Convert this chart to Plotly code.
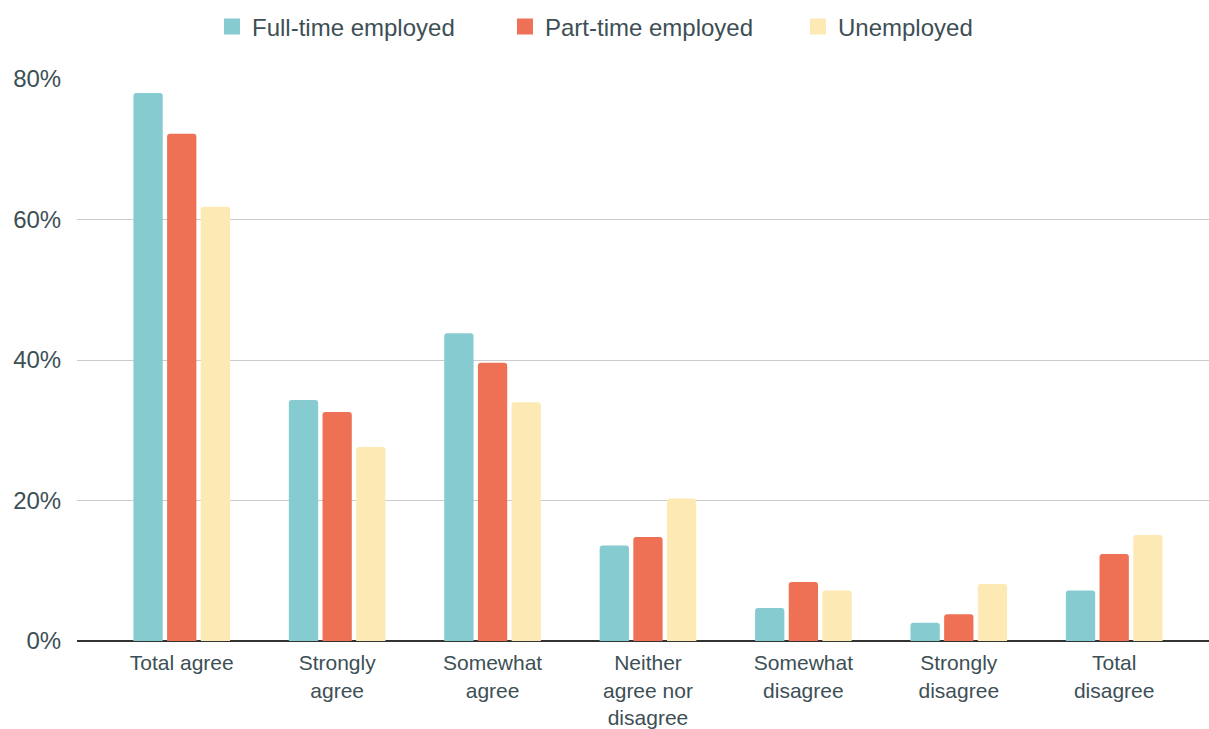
import plotly.graph_objects as go

categories = ["Total agree", "Strongly<br>agree", "Somewhat<br>agree",
              "Neither<br>agree nor<br>disagree", "Somewhat<br>disagree",
              "Strongly<br>disagree", "Total<br>disagree"]
series_names = ["Full-time employed", "Part-time employed", "Unemployed"]
full_time = [78.0, 34.3, 43.8, 13.6, 4.7, 2.6, 7.2]
part_time = [72.2, 32.6, 39.6, 14.8, 8.4, 3.8, 12.4]
unemployed = [61.8, 27.6, 34.0, 20.3, 7.2, 8.1, 15.1]
colors = ["#86CBD0", "#EF7155", "#FDE9B4"]
y_ticks = [0, 20, 40, 60, 80]
y_tick_text = ["0%", "20%", "40%", "60%", "80%"]

FONT = "Arial"
TXT = "#3d4f55"

fig = go.Figure()
for name, vals, col in zip(series_names, [full_time, part_time, unemployed], colors):
    fig.add_trace(go.Bar(x=list(range(len(categories))), y=vals, name=name,
                         marker=dict(color=col, line=dict(width=0)),
                         showlegend=False))
    fig.add_trace(go.Scatter(x=[None], y=[None], mode="markers", name=name,
                             marker=dict(symbol="square", size=16, color=col,
                                         line=dict(width=0)),
                             showlegend=True))

fig.update_layout(
    width=1209, height=729,
    margin=dict(l=77, r=0, t=79, b=88),
    paper_bgcolor="white", plot_bgcolor="white",
    barmode="group", bargap=0.35, bargroupgap=0.13,
    barcornerradius=3,
    font=dict(family=FONT, size=24, color=TXT),
    legend=dict(orientation="h", x=0.5075, xanchor="center",
                yref="container", y=1 - 27 / 729, yanchor="middle",
                font=dict(size=24, color=TXT), entrywidth=248,
                itemclick=False),
    xaxis=dict(range=[-0.674, 6.61], tickvals=list(range(len(categories))),
               ticktext=categories, showgrid=False, zeroline=False,
               automargin=False,
               ticks="outside", ticklen=3, tickcolor="rgba(0,0,0,0)",
               tickfont=dict(size=21, color=TXT)),
    yaxis=dict(range=[0, 80], tickvals=y_ticks, ticktext=y_tick_text,
               showgrid=True, gridcolor="#cccccc", gridwidth=1,
               zeroline=True, zerolinecolor="#333333", zerolinewidth=2,
               automargin=False,
               ticks="outside", ticklen=10, tickcolor="rgba(0,0,0,0)",
               tickfont=dict(size=24, color=TXT)),
)

fig.write_html("out.html")
